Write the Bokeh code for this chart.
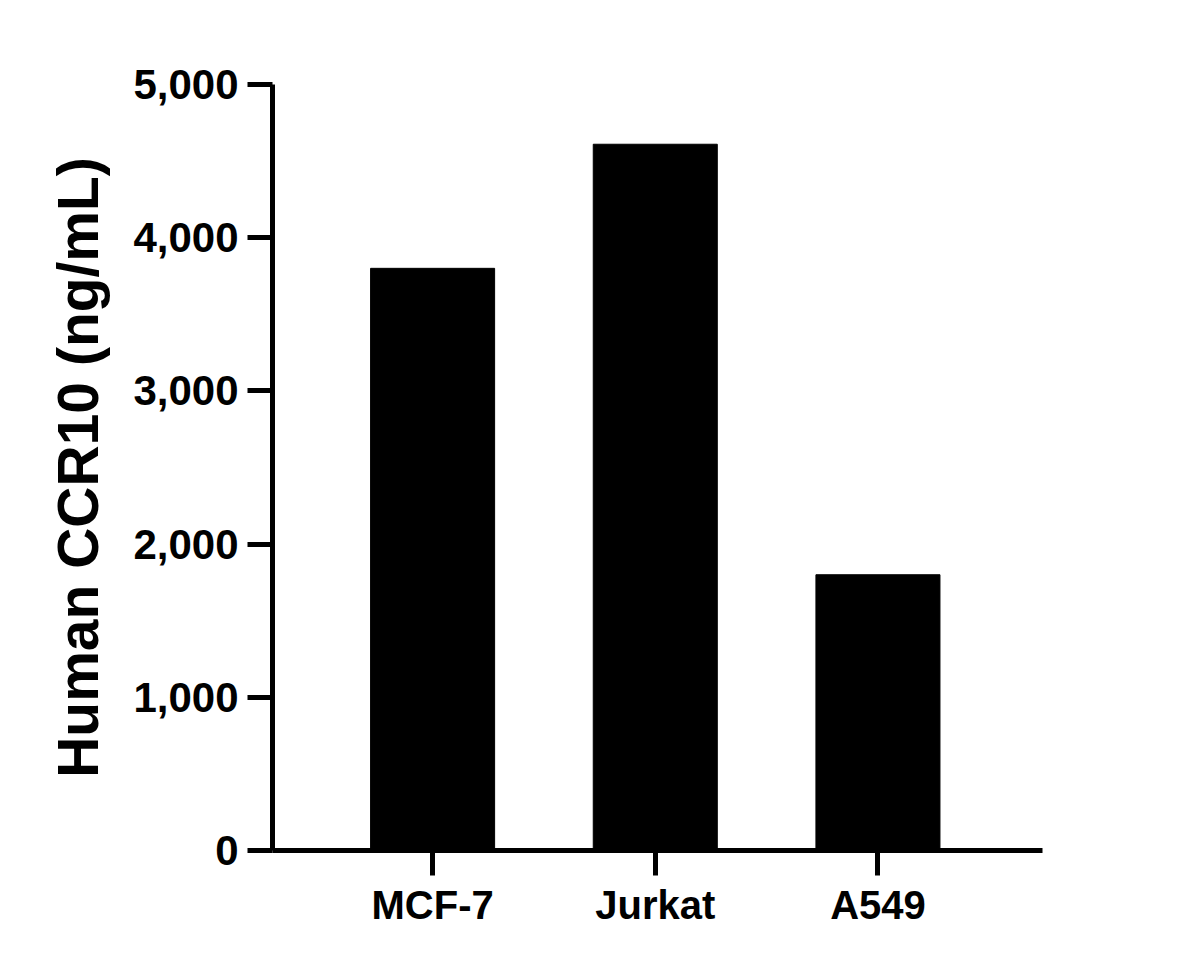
from bokeh.plotting import figure
from bokeh.models import Range1d, FixedTicker, NumeralTickFormatter, ColumnDataSource
from bokeh.embed import file_html
from bokeh.resources import INLINE

categories = ["MCF-7", "Jurkat", "A549"]
values = [3800, 4610, 1800]
y_ticks = [0, 1000, 2000, 3000, 4000, 5000]

positions = [i + 1 for i in range(len(categories))]
source = ColumnDataSource(data=dict(x=positions, cat=categories, val=values))

p = figure(
    width=1161, height=951,
    x_range=Range1d(0.281, 3.739),
    y_range=Range1d(0, 5000),
    output_backend="svg", toolbar_location=None,
    min_border_left=272, min_border_right=119, min_border_top=84, min_border_bottom=101,
)

p.vbar(x="x", top="val", width=0.557, source=source, fill_color="black", line_color="black")

p.grid.visible = False
p.outline_line_color = None
p.background_fill_color = "white"
p.border_fill_color = "white"

FONT = "Liberation Sans"

for ax in (p.xaxis[0], p.yaxis[0]):
    ax.axis_line_width = 5
    ax.axis_line_color = "black"
    ax.major_tick_line_width = 5
    ax.major_tick_line_color = "black"
    ax.major_tick_in = 0
    ax.major_tick_out = 25
    ax.minor_tick_line_color = None
    ax.major_label_text_font = FONT
    ax.major_label_text_font_style = "bold"
    ax.major_label_text_color = "black"

p.xaxis.ticker = FixedTicker(ticks=positions)
p.xaxis.major_label_overrides = {pos: c for pos, c in zip(positions, categories)}
p.xaxis.major_label_text_font_size = "40px"
p.xaxis.major_label_standoff = 7

p.yaxis.major_label_text_font_size = "42px"
p.yaxis.major_label_standoff = 9
p.yaxis.ticker = FixedTicker(ticks=y_ticks)
p.yaxis.formatter = NumeralTickFormatter(format="0,0")
p.yaxis.axis_label = "Human CCR10 (ng/mL)"
p.yaxis.axis_label_text_font = FONT
p.yaxis.axis_label_text_font_style = "bold"
p.yaxis.axis_label_text_font_size = "57px"
p.yaxis.axis_label_text_color = "black"
p.yaxis.axis_label_standoff = 20

open("out.html", "w").write(file_html(p, INLINE))
